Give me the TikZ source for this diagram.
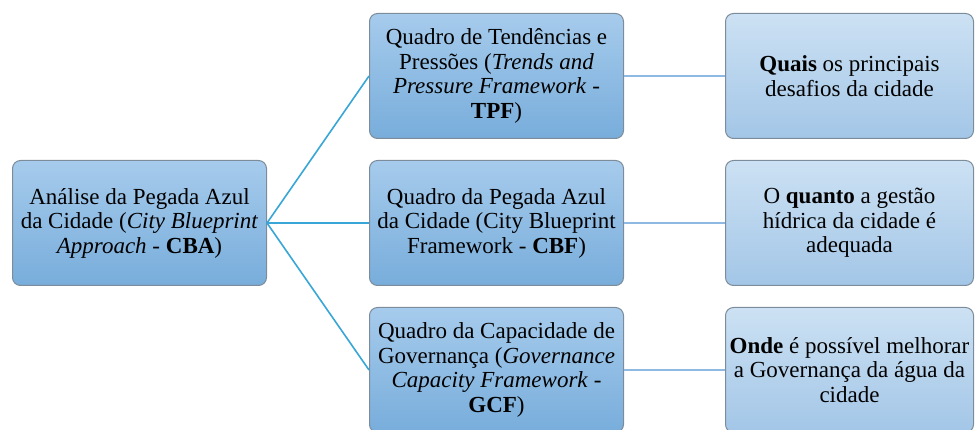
\documentclass[tikz,border=0pt]{standalone}
\usepackage{fontspec}
\setmainfont{Liberation Serif}
\usepackage{tikz}
\usetikzlibrary{positioning}
\definecolor{boxtop}{HTML}{A6CBEC}
\definecolor{boxbot}{HTML}{78ADDB}
\definecolor{ansktop}{HTML}{CCE1F3}
\definecolor{anskbot}{HTML}{A3C6E7}
\definecolor{boxline}{HTML}{7D8C9A}
\definecolor{linkcol}{HTML}{38A6D6}
\definecolor{softlink}{HTML}{8DB9E2}
\tikzset{
  framebox/.style={draw=boxline, line width=1pt, rounded corners=8pt, align=center, inner sep=2pt, minimum width=254pt, minimum height=125pt, top color=boxtop, bottom color=boxbot, font=\rmfamily\fontsize{23}{24.5}\selectfont},
  askbox/.style={framebox, minimum width=248pt, top color=ansktop, bottom color=anskbot},
  link/.style={line width=1.6pt, linkcol},
  softline/.style={line width=1.6pt, softlink}
}
\begin{document}
\begin{tikzpicture}[x=1pt, y=1pt, node distance=21pt and 102pt]
    \useasboundingbox (0,0) rectangle (977,-430);
    \clip (0,0) rectangle (977,-430);
    \node[framebox] (cba) at (139.5,-223) {Análise da Pegada Azul\\da Cidade (\textit{City Blueprint}\\\textit{Approach} - \textbf{CBA})};
    \node[framebox, right=of cba] (cbf) {Quadro da Pegada Azul\\da Cidade (City Blueprint\\Framework - \textbf{CBF})};
    \node[framebox, above=of cbf] (tpf) {Quadro de Tendências e\\Pressões (\textit{Trends and}\\\textit{Pressure Framework} -\\\textbf{TPF})};
    \node[framebox, below=of cbf] (gcf) {Quadro da Capacidade de\\Governança (\textit{Governance}\\\textit{Capacity Framework} -\\\textbf{GCF})};
    \node[askbox, right=101pt of tpf] (quais) {\textbf{Quais} os principais\\desafios da cidade};
    \node[askbox, right=101pt of cbf] (quanto) {O \textbf{quanto} a gestão\\hídrica da cidade é\\adequada};
    \node[askbox, right=101pt of gcf] (onde) {\textbf{Onde} é possível melhorar\\a Governança da água da\\cidade};

    \draw[link] (cba.east) -- (tpf.west);
    \draw[link] (cba.east) -- (cbf.west);
    \draw[link] (cba.east) -- (gcf.west);
    \draw[softline] (tpf) -- (quais);
    \draw[softline] (cbf) -- (quanto);
    \draw[softline] (gcf) -- (onde);
  \end{tikzpicture}
\end{document}
